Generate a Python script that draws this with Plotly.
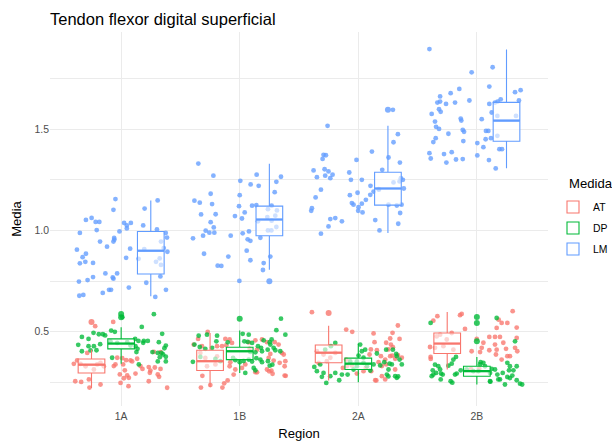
import plotly.graph_objects as go

# ---------------- data ----------------
regions = ["1A", "1B", "2A", "2B"]
medidas = ["AT", "DP", "LM"]

# jittered observations: (horizontal jitter in category units, Media value)
pts_AT_1A = [(-0.067,0.549),(-0.219,0.528),(0.276,0.401),(0.332,0.400),(-0.286,0.396),(-0.371,0.359),(-0.399,0.342),(-0.174,0.347),(-0.230,0.314),(-0.146,0.330),(-0.033,0.372),(0.009,0.370),(0.042,0.360),(0.079,0.359),(0.093,0.354),(0.135,0.367),(-0.048,0.339),(0.017,0.339),(-0.062,0.331),(0.163,0.331),(0.180,0.317),(0.233,0.326),(0.284,0.324),(0.332,0.317),(0.247,0.309),(0.242,0.298),(0.031,0.310),(-0.011,0.290),(0.051,0.285),(0.065,0.273),(0.121,0.294),(0.023,0.271),(0.309,0.290),(0.320,0.278),(-0.387,0.256),(-0.337,0.253),(-0.272,0.265),(-0.174,0.240),(-0.267,0.225),(-0.005,0.248),(0.062,0.232),(0.233,0.256),(0.388,0.224),(-0.343,0.342),(-0.300,0.330),(-0.202,0.339)]
pts_AT_1B = [(-0.270,0.499),(-0.351,0.465),(-0.121,0.465),(-0.085,0.462),(-0.065,0.445),(-0.149,0.429),(-0.113,0.434),(-0.191,0.429),(0.076,0.448),(0.132,0.458),(0.188,0.462),(0.230,0.449),(0.295,0.449),(-0.388,0.437),(-0.318,0.429),(0.084,0.416),(0.146,0.412),(0.328,0.437),(0.356,0.396),(0.371,0.388),(0.385,0.355),(0.379,0.330),(0.337,0.347),(0.258,0.391),(0.244,0.371),(0.286,0.358),(-0.079,0.350),(-0.085,0.330),(-0.037,0.314),(-0.051,0.289),(0.132,0.301),(0.230,0.314),(0.267,0.309),(0.379,0.284),(0.047,0.339),(0.019,0.322),(-0.332,0.396),(-0.290,0.371),(-0.276,0.330),(-0.205,0.339),(-0.191,0.379),(-0.327,0.225),(-0.248,0.237),(-0.146,0.225),(-0.131,0.246),(-0.102,0.260),(-0.315,0.283),(0.146,0.300),(0.248,0.305),(0.277,0.293),(0.388,0.283)]
pts_AT_2A = [(-0.391,0.597),(-0.102,0.511),(-0.051,0.500),(0.129,0.492),(0.289,0.495),(0.334,0.531),(0.269,0.467),(0.235,0.446),(0.275,0.437),(0.292,0.424),(0.348,0.465),(0.137,0.449),(0.157,0.409),(0.106,0.413),(0.095,0.388),(0.191,0.380),(0.227,0.363),(0.269,0.380),(0.286,0.383),(0.311,0.367),(0.334,0.385),(0.367,0.372),(0.171,0.350),(0.199,0.331),(0.235,0.339),(-0.102,0.363),(-0.130,0.322),(-0.096,0.331),(0.044,0.306),(0.064,0.322),(-0.012,0.294),(-0.054,0.334),(0.109,0.306),(0.143,0.261),(0.199,0.281),(0.227,0.265),(0.311,0.314),(0.255,0.413),(-0.349,0.404),(-0.293,0.388),(-0.236,0.372),(-0.194,0.396),(-0.335,0.347),(-0.265,0.355),(0.152,0.260)]
pts_AT_2B = [(-0.367,0.555),(-0.333,0.577),(-0.142,0.582),(-0.128,0.588),(-0.100,0.514),(0.302,0.602),(0.209,0.544),(0.257,0.544),(0.167,0.519),(0.336,0.521),(-0.001,0.465),(0.105,0.475),(0.153,0.475),(0.195,0.475),(0.336,0.470),(-0.044,0.404),(0.041,0.421),(0.027,0.400),(0.055,0.446),(0.153,0.437),(0.223,0.446),(0.322,0.421),(0.341,0.404),(0.167,0.412),(0.161,0.388),(0.246,0.416),(0.209,0.363),(0.257,0.380),(0.279,0.380),(0.105,0.409),(-0.395,0.425),(-0.390,0.376),(-0.389,0.366),(-0.310,0.486),(-0.212,0.494),(-0.353,0.421),(-0.282,0.429),(-0.339,0.477),(0.184,0.560),(-0.254,0.462),(-0.198,0.412),(-0.050,0.316),(0.020,0.318)]

pts_DP_1A = [(0.276,0.587),(0.174,0.524),(0.346,0.490),(-0.233,0.495),(-0.331,0.475),(-0.275,0.465),(-0.188,0.488),(-0.154,0.488),(-0.135,0.482),(-0.084,0.506),(-0.053,0.500),(0.118,0.465),(0.146,0.455),(0.191,0.455),(0.225,0.455),(0.186,0.446),(0.318,0.449),(-0.362,0.436),(-0.275,0.429),(-0.230,0.429),(-0.177,0.439),(0.377,0.432),(0.365,0.419),(0.121,0.429),(-0.331,0.404),(-0.258,0.408),(-0.208,0.409),(0.138,0.416),(0.129,0.400),(0.264,0.400),(0.309,0.396),(0.340,0.396),(0.354,0.388),(0.326,0.375),(0.377,0.377),(0.309,0.354),(0.377,0.354),(-0.076,0.372),(0.149,0.339),(-0.090,0.453),(-0.033,0.445),(0.051,0.449),(0.079,0.432),(0.010,0.572)]
pts_DP_1B = [(0.348,0.565),(-0.346,0.481),(-0.276,0.486),(-0.191,0.481),(0.076,0.486),(0.025,0.490),(0.309,0.508),(0.385,0.486),(-0.382,0.437),(-0.337,0.425),(-0.290,0.416),(-0.233,0.421),(-0.197,0.453),(-0.101,0.448),(0.039,0.453),(0.067,0.450),(0.104,0.445),(0.154,0.429),(0.202,0.458),(0.253,0.449),(0.269,0.462),(0.258,0.437),(0.286,0.421),(0.180,0.421),(0.188,0.404),(0.236,0.412),(0.300,0.409),(0.342,0.404),(0.090,0.401),(0.132,0.399),(-0.395,0.352),(-0.332,0.376),(-0.205,0.366),(-0.163,0.355),(-0.056,0.371),(-0.037,0.360),(0.000,0.350),(0.033,0.356),(0.076,0.363),(0.104,0.353),(0.140,0.370),(0.174,0.363),(0.188,0.350),(0.238,0.355),(0.253,0.333),(0.275,0.338),(0.047,0.297),(0.118,0.322),(0.132,0.310)]
pts_DP_2A = [(-0.194,0.445),(-0.231,0.429),(-0.279,0.412),(0.016,0.437),(0.030,0.404),(0.058,0.412),(0.002,0.383),(0.044,0.372),(0.157,0.393),(0.235,0.412),(0.292,0.412),(0.320,0.391),(0.219,0.350),(0.325,0.380),(0.348,0.363),(0.367,0.339),(0.283,0.339),(-0.321,0.339),(-0.371,0.327),(-0.349,0.306),(-0.307,0.278),(-0.293,0.297),(-0.270,0.248),(-0.236,0.281),(-0.194,0.297),(-0.161,0.261),(-0.138,0.289),(-0.090,0.289),(-0.040,0.314),(-0.012,0.330),(-0.068,0.354),(0.129,0.339),(0.101,0.309),(0.185,0.334),(0.241,0.289),(0.255,0.314),(0.311,0.281),(0.325,0.273),(0.264,0.343),(-0.012,0.354),(0.044,0.347),(0.073,0.330),(0.254,0.280),(0.336,0.280)]
pts_DP_2B = [(-0.390,0.544),(0.167,0.568),(0.322,0.453),(-0.176,0.376),(-0.198,0.363),(-0.212,0.343),(-0.240,0.333),(-0.353,0.338),(-0.325,0.330),(-0.310,0.314),(-0.372,0.310),(-0.344,0.297),(-0.381,0.281),(-0.367,0.289),(-0.302,0.294),(-0.288,0.289),(-0.305,0.265),(-0.221,0.256),(-0.184,0.289),(-0.170,0.294),(0.032,0.350),(0.055,0.347),(0.069,0.330),(0.027,0.339),(0.125,0.317),(0.153,0.314),(0.173,0.289),(0.181,0.265),(0.195,0.265),(0.111,0.297),(0.257,0.347),(0.279,0.330),(0.271,0.310),(0.308,0.310),(0.336,0.330),(0.218,0.297),(0.257,0.277),(0.279,0.272),(0.299,0.284),(0.336,0.261),(0.364,0.244),(0.111,0.256),(0.237,0.240),(-0.136,0.310),(-0.086,0.314),(-0.030,0.306),(0.013,0.306),(-0.207,0.249),(0.114,0.254),(0.382,0.240)]

pts_LM_1A = [(-0.048,1.155),(0.308,1.148),(-0.065,1.102),(0.198,1.108),(-0.297,1.052),(-0.249,1.062),(-0.215,1.042),(-0.184,1.042),(0.025,1.037),(0.082,1.037),(0.048,1.025),(0.186,1.025),(0.048,1.010),(-0.206,1.002),(-0.348,0.988),(-0.014,0.995),(0.302,1.005),(0.376,0.988),(0.387,0.965),(-0.059,0.963),(-0.065,0.945),(-0.178,0.945),(-0.119,0.920),(-0.057,0.955),(0.336,0.945),(-0.373,0.905),(-0.297,0.885),(-0.325,0.868),(0.076,0.910),(0.359,0.913),(0.390,0.895),(0.195,0.908),(-0.348,0.838),(-0.302,0.845),(-0.237,0.840),(0.042,0.865),(0.147,0.860),(0.294,0.845),(0.325,0.862),(0.336,0.830),(-0.133,0.788),(-0.034,0.788),(-0.071,0.768),(-0.065,0.762),(-0.237,0.770),(-0.283,0.755),(-0.356,0.748),(0.331,0.773),(0.212,0.742),(0.065,0.718),(-0.102,0.707),(-0.085,0.707),(-0.155,0.692),(0.378,0.707),(-0.353,0.678),(-0.319,0.682),(0.288,0.672)]
pts_LM_1B = [(-0.349,1.330),(-0.222,1.270),(0.005,1.245),(0.092,1.227),(0.143,1.275),(0.160,1.220),(0.309,1.240),(0.348,1.265),(-0.245,1.181),(0.000,1.174),(0.295,1.189),(-0.382,1.147),(-0.337,1.137),(-0.233,1.130),(-0.006,1.120),(0.104,1.122),(0.140,1.125),(0.269,1.122),(-0.326,1.079),(-0.203,1.080),(-0.040,1.071),(0.019,1.059),(0.042,1.089),(-0.245,1.041),(-0.219,1.015),(-0.287,0.999),(-0.309,0.974),(-0.256,0.989),(-0.214,0.989),(-0.394,0.961),(-0.076,0.974),(0.025,0.986),(0.078,0.995),(0.067,0.956),(0.090,0.949),(0.174,0.964),(0.059,0.900),(-0.301,0.885),(-0.096,0.871),(0.090,0.853),(0.258,0.871),(0.202,0.839),(0.196,0.805),(-0.186,0.826),(-0.155,0.825),(-0.003,0.751),(0.238,1.105),(0.314,1.099),(0.269,1.048),(0.154,1.045),(0.238,1.000),(0.267,1.000),(0.309,1.017),(0.300,1.073),(0.233,1.066)]
pts_LM_2A = [(0.292,1.595),(-0.259,1.516),(0.334,1.475),(0.297,1.435),(0.115,1.389),(-0.293,1.373),(-0.273,1.371),(-0.301,1.353),(-0.015,1.348),(0.255,1.360),(0.351,1.335),(-0.377,1.296),(-0.284,1.302),(-0.251,1.291),(-0.279,1.270),(-0.236,1.258),(-0.217,1.275),(-0.349,1.263),(-0.076,1.286),(0.202,1.299),(-0.062,1.250),(0.030,1.250),(0.359,1.258),(0.348,1.242),(0.376,1.250),(-0.315,1.201),(-0.360,1.163),(0.103,1.220),(0.384,1.207),(-0.071,1.174),(-0.006,1.186),(0.064,1.151),(-0.054,1.135),(-0.040,1.127),(0.030,1.132),(0.002,1.115),(-0.001,1.097),(0.036,1.089),(-0.391,1.110),(-0.397,1.097),(0.101,1.176),(0.129,1.192),(0.174,1.201),(0.255,1.127),(0.325,1.123),(0.365,1.127),(0.353,1.086),(-0.236,1.056),(-0.194,1.061),(-0.138,1.045),(-0.251,1.020),(0.143,1.051),(0.337,1.033),(0.179,1.000),(-0.315,0.984),(0.297,1.237),(0.171,1.204)]
pts_LM_2B = [(-0.400,1.895),(0.133,1.805),(-0.044,1.780),(0.105,1.710),(-0.148,1.698),(-0.221,1.677),(-0.310,1.661),(-0.333,1.631),(-0.310,1.636),(-0.260,1.624),(-0.184,1.631),(-0.063,1.641),(0.105,1.624),(0.153,1.631),(0.175,1.636),(0.201,1.647),(0.322,1.682),(0.369,1.692),(0.355,1.641),(-0.381,1.575),(-0.319,1.598),(-0.305,1.585),(-0.136,1.552),(-0.131,1.542),(0.041,1.549),(-0.353,1.537),(-0.344,1.511),(-0.319,1.501),(-0.119,1.496),(-0.108,1.487),(-0.114,1.441),(0.077,1.491),(0.097,1.491),(0.074,1.450),(0.119,1.455),(-0.240,1.477),(-0.347,1.455),(-0.367,1.436),(0.004,1.431),(0.055,1.411),(-0.400,1.381),(-0.389,1.355),(-0.277,1.377),(-0.212,1.386),(-0.257,1.335),(-0.176,1.350),(-0.119,1.352),(0.004,1.370),(0.102,1.347),(0.159,1.306),(0.190,1.401),(0.212,1.401),(0.125,1.582),(0.173,1.565),(0.330,1.565),(0.173,1.467)]

# box-plot statistics per region (1A, 1B, 2A, 2B)
AT_q1 = [0.297, 0.309, 0.347, 0.393]
AT_med = [0.338, 0.355, 0.397, 0.442]
AT_q3 = [0.366, 0.409, 0.435, 0.494]
AT_lo = [0.223, 0.228, 0.260, 0.314]
AT_hi = [0.412, 0.494, 0.530, 0.598]

DP_q1 = [0.416, 0.363, 0.314, 0.281]
DP_med = [0.442, 0.404, 0.343, 0.306]
DP_q3 = [0.465, 0.424, 0.370, 0.330]
DP_lo = [0.342, 0.297, 0.251, 0.240]
DP_hi = [0.522, 0.506, 0.442, 0.376]

LM_q1 = [0.785, 0.974, 1.125, 1.440]
LM_med = [0.900, 1.054, 1.207, 1.542]
LM_q3 = [0.995, 1.120, 1.287, 1.632]
LM_lo = [0.675, 0.806, 0.987, 1.307]
LM_hi = [1.148, 1.329, 1.516, 1.893]

# outliers per region
AT_out = [[0.549], [], [0.593], []]
DP_out = [[0.588, 0.572], [0.565], [], [0.573, 0.544, 0.453]]
LM_out = [[], [0.749], [1.595], []]

y_ticks = [0.5, 1.0, 1.5]
y_minor = [0.25, 0.75, 1.25, 1.75]

# ---------------- style ----------------
colors = {"AT": "#F8766D", "DP": "#00BA38", "LM": "#619CFF"}
dodge = {"AT": -0.25, "DP": 0.0, "LM": 0.25}
box_w = 0.225
FONT = "Liberation Sans"
W, H = 612, 441
L, R, T, B = 50, 64, 32, 34.5
TITLE_SZ, AXT_SZ, TICK_SZ = 16.5, 13.1, 10.4

points = {
    "AT": [pts_AT_1A, pts_AT_1B, pts_AT_2A, pts_AT_2B],
    "DP": [pts_DP_1A, pts_DP_1B, pts_DP_2A, pts_DP_2B],
    "LM": [pts_LM_1A, pts_LM_1B, pts_LM_2A, pts_LM_2B],
}
stats = {
    "AT": (AT_q1, AT_med, AT_q3, AT_lo, AT_hi, AT_out),
    "DP": (DP_q1, DP_med, DP_q3, DP_lo, DP_hi, DP_out),
    "LM": (LM_q1, LM_med, LM_q3, LM_lo, LM_hi, LM_out),
}

fig = go.Figure()

# jittered points (bottom layer)
for m in medidas:
    xs, ys = [], []
    for i, grp in enumerate(points[m]):
        for dx, v in grp:
            xs.append(i + 1 + dx)
            ys.append(v)
    fig.add_trace(go.Scatter(
        x=xs, y=ys, mode="markers",
        marker=dict(color=colors[m], size=4.8, opacity=0.78, line=dict(width=0)),
        showlegend=False, hoverinfo="skip"))

# boxes on overlaying axes (drawn on top of the points)
for m in medidas:
    q1, med, q3, lo, hi, out = stats[m]
    pos = [i + 1 + dodge[m] for i in range(len(regions))]
    fig.add_trace(go.Box(
        x=pos, q1=q1, median=med, q3=q3, lowerfence=lo, upperfence=hi,
        width=box_w, whiskerwidth=0, boxpoints=False,
        line=dict(color=colors[m], width=1.1),
        fillcolor="rgba(255,255,255,0.6)",
        name=m, legendgroup=m, xaxis="x2", yaxis="y2", hoverinfo="skip"))
    mx, my = [], []
    for p, md in zip(pos, med):
        mx += [p - box_w / 2, p + box_w / 2, None]
        my += [md, md, None]
    fig.add_trace(go.Scatter(
        x=mx, y=my, mode="lines", line=dict(color=colors[m], width=2.3),
        showlegend=False, hoverinfo="skip", xaxis="x2", yaxis="y2"))
    ox, oy = [], []
    for p, vals in zip(pos, out):
        for v in vals:
            ox.append(p)
            oy.append(v)
    fig.add_trace(go.Scatter(
        x=ox, y=oy, mode="markers",
        marker=dict(color=colors[m], size=6, opacity=0.8, line=dict(width=0)),
        showlegend=False, hoverinfo="skip", xaxis="x2", yaxis="y2"))

xr = [0.4, 4.6]
yr = [0.134, 1.979]
grid = "#EBEBEB"
pw = W - L - R
ph = H - T - B

fig.update_layout(
    template="none",
    width=W, height=H, autosize=False,
    margin=dict(l=L, r=R, t=T, b=B, pad=0, autoexpand=False),
    paper_bgcolor="white", plot_bgcolor="white",
    font=dict(family=FONT, color="black"),
    title=dict(text="Tendon flexor digital superficial", x=L / W, xanchor="left",
               y=1 - 19 / H, yanchor="middle", font=dict(size=TITLE_SZ, color="black")),
    xaxis=dict(range=xr, tickmode="array", tickvals=[1, 2, 3, 4], ticktext=regions,
               showgrid=True, gridcolor=grid, gridwidth=1.07, zeroline=False,
               showline=False, ticks="", tickfont=dict(size=TICK_SZ, color="#4D4D4D"),
               ticklabelstandoff=3, automargin=False,
               title=dict(text="Region", font=dict(size=AXT_SZ, color="black"), standoff=7)),
    yaxis=dict(range=yr, tickmode="array", tickvals=y_ticks,
               ticktext=[f"{v:.1f}" for v in y_ticks],
               showgrid=True, gridcolor=grid, gridwidth=1.07, zeroline=False,
               showline=False, ticks="", tickfont=dict(size=TICK_SZ, color="#4D4D4D"),
               automargin=False,
               minor=dict(tickmode="array", tickvals=y_minor, showgrid=True,
                          gridcolor=grid, gridwidth=0.55, ticks=""),
               title=dict(text="Media", font=dict(size=AXT_SZ, color="black"), standoff=9)),
    xaxis2=dict(overlaying="x", range=xr, visible=False),
    yaxis2=dict(overlaying="y", range=yr, visible=False),
    legend=dict(font=dict(size=TICK_SZ, color="black"),
                x=(553 - L) / pw, xanchor="left",
                y=1 - (192.7 - T) / ph, yanchor="top",
                bgcolor="rgba(0,0,0,0)", borderwidth=0, tracegroupgap=2,
                itemwidth=30),
    annotations=[dict(text="Medida", xref="paper", yref="paper",
                      x=(567 - L) / pw, xanchor="left",
                      y=1 - (184 - T) / ph, yanchor="middle",
                      showarrow=False, font=dict(size=AXT_SZ, color="black"))],
    showlegend=True,
)

fig.write_html("out.html", config={"displayModeBar": False},
               post_script="document.body.style.margin='0px';")
